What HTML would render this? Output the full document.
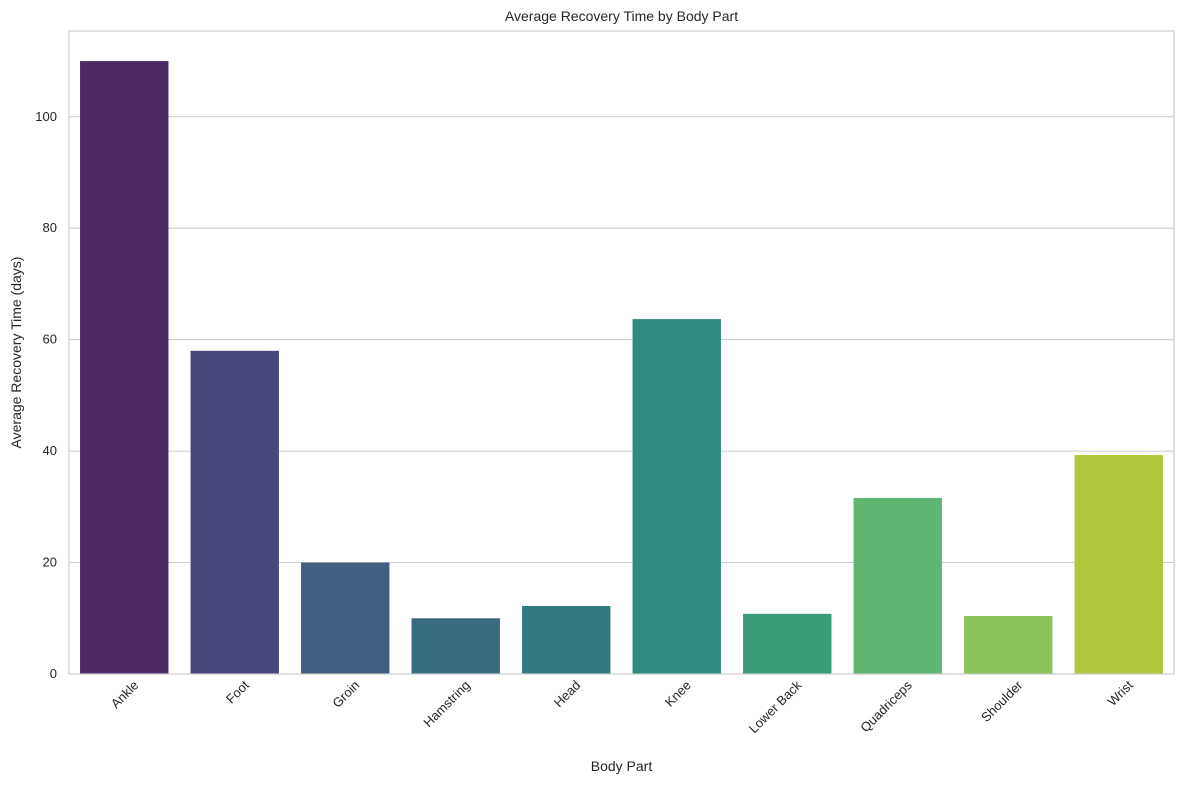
<!DOCTYPE html>
<html><head><meta charset="utf-8"><style>
body{margin:0;background:#fff;font-family:"Liberation Sans",sans-serif}
svg text{font-family:"Liberation Sans",sans-serif;fill:#262626}
</style></head><body>
<svg id="chart" width="1184" height="784" xmlns="http://www.w3.org/2000/svg"></svg>
<script>
const categories=["Ankle","Foot","Groin","Hamstring","Head","Knee","Lower Back","Quadriceps","Shoulder","Wrist"];
const values=[110,58,20,10,12.2,63.7,10.8,31.6,10.4,39.3];
const colors=["#4b2a66","#47477c","#425e83","#386b80","#317a80","#308c80","#3a9d78","#5fb670","#88c45a","#b1c73b"];
const yTicks=[0,20,40,60,80,100];
const L=69,R=1174,T=31,B=674,yMax=115.4;
const svg=document.getElementById('chart');
const NS='http://www.w3.org/2000/svg';
function y(v){return B-(v/yMax)*(B-T);}
const band=(R-L)/categories.length;
function x(i){return L+band*i;}
function mk(tag,attrs,txt){const e=document.createElementNS(NS,tag);for(const k in attrs)e.setAttribute(k,attrs[k]);if(txt!==undefined)e.textContent=txt;svg.appendChild(e);return e;}
yTicks.forEach(t=>{
 const g=mk('line',{x1:L,x2:R,y1:y(t),y2:y(t),stroke:'#cccccc','stroke-width':1});
 
 
 const l=mk('text',{x:L-12,y:y(t)+4,'text-anchor':'end','font-size':13},String(t));
 
 
});
categories.forEach((c,i)=>{
 const bw=band*0.8;
 const r=mk('rect',{x:x(i)+band*0.1,y:y(values[i]),width:bw,height:B-y(values[i]),fill:colors[i]});
 
 
 const cx=x(i)+band/2+15, cy=B+12;
 const t=mk('text',{x:cx,y:cy,'text-anchor':'end','font-size':13,transform:`rotate(-45 ${cx} ${cy})`},c);
 
 
});
const f=mk('rect',{x:L,y:T,width:R-L,height:B-T,fill:'none',stroke:'#cccccc','stroke-width':1.2});


const ti=mk('text',{x:(L+R)/2,y:21,'text-anchor':'middle','font-size':14},'Average Recovery Time by Body Part');


const xl=mk('text',{x:(L+R)/2,y:771,'text-anchor':'middle','font-size':14},'Body Part');


const yl=mk('text',{x:21,y:(T+B)/2,'text-anchor':'middle','font-size':14,transform:`rotate(-90 21 ${(T+B)/2})`},'Average Recovery Time (days)');


</script>
</body></html>
